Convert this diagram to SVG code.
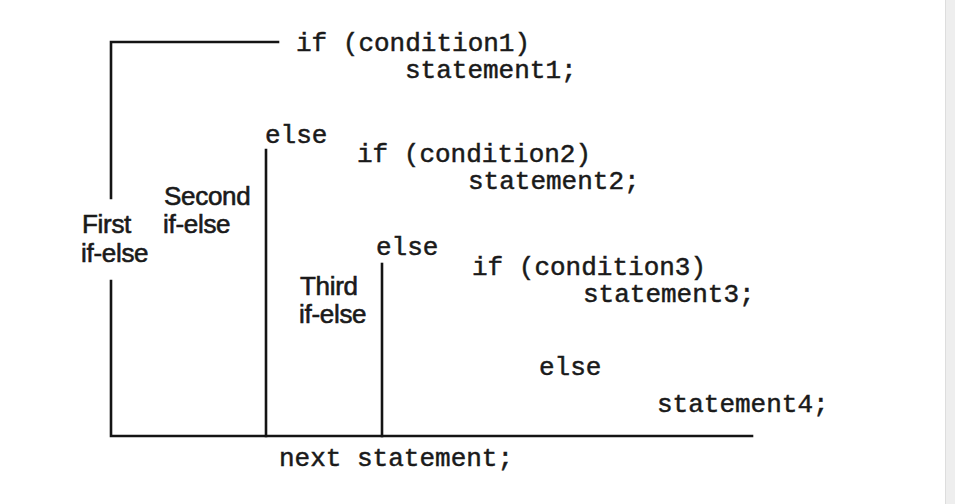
<svg xmlns="http://www.w3.org/2000/svg" width="955" height="504" viewBox="0 0 955 504">
  <style>
    .code { font-family: "Liberation Mono", "DejaVu Sans Mono", monospace; font-size: 26px; fill: #1a1a1a; stroke: #1a1a1a; stroke-width: 0.5; }
    .label { font-family: "Liberation Sans", Arial, sans-serif; font-size: 26px; fill: #1a1a1a; stroke: #1a1a1a; stroke-width: 0.6; letter-spacing: -0.3px; }
    .rule { stroke: #141414; stroke-width: 2.6; fill: none; stroke-linecap: square; }
  </style>
  <rect width="955" height="504" fill="#ffffff"/>
  <!-- scrollbar strip on the right -->
  <rect x="945" y="0" width="10" height="504" fill="#eeeeee"/>
  <line x1="945.5" y1="0" x2="945.5" y2="504" stroke="#dddddd" stroke-width="1"/>

  <!-- bracket lines -->
  <g id="connectors">
    <polyline class="rule" points="278,42 111,42 111,198"/>
    <polyline class="rule" points="111,281 111,436 752,436"/>
    <line class="rule" x1="266" y1="150" x2="266" y2="436"/>
    <line class="rule" x1="382" y1="264" x2="382" y2="436"/>
  </g>

  <g id="first-if">
    <text class="code" x="296" y="51">if (condition1)</text>
    <text class="code" x="405" y="78">statement1;</text>
  </g>
  <g id="first-else">
    <text class="code" x="265" y="143">else</text>
  </g>
  <g id="second-if">
    <text class="code" x="357" y="162">if (condition2)</text>
    <text class="code" x="468" y="189">statement2;</text>
  </g>
  <g id="second-else">
    <text class="code" x="376" y="255">else</text>
  </g>
  <g id="third-if">
    <text class="code" x="472" y="275">if (condition3)</text>
    <text class="code" x="583" y="302">statement3;</text>
  </g>
  <g id="third-else">
    <text class="code" x="539" y="375">else</text>
    <text class="code" x="657" y="412">statement4;</text>
  </g>
  <g id="next">
    <text class="code" x="279" y="466">next statement;</text>
  </g>

  <g id="label-first">
    <text class="label" x="82" y="233">First</text>
    <text class="label" x="81" y="262">if-else</text>
  </g>
  <g id="label-second">
    <text class="label" x="164" y="205">Second</text>
    <text class="label" x="163" y="233">if-else</text>
  </g>
  <g id="label-third">
    <text class="label" x="300" y="295">Third</text>
    <text class="label" x="299" y="323">if-else</text>
  </g>
</svg>
